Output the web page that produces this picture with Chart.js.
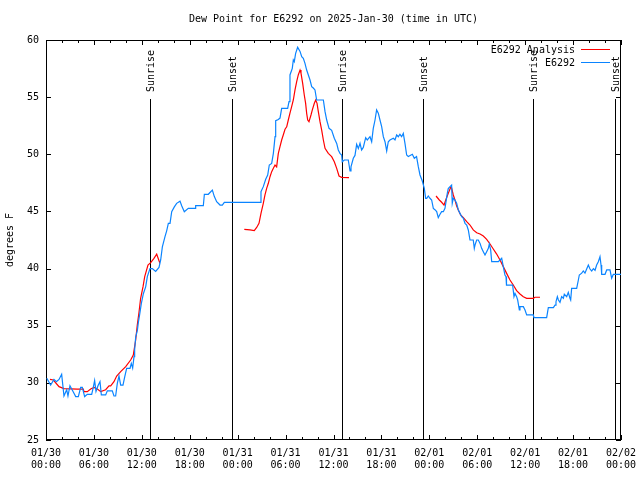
<!DOCTYPE html>
<html>
<head>
<meta charset="utf-8">
<script src="https://cdn.jsdelivr.net/npm/chart.js@4.4.1/dist/chart.umd.min.js"></script>
<style>
  body { margin: 0; background: #fff; }
  #chart { display: block; }
</style>
</head>
<body>
<canvas id="chart" width="640" height="480"></canvas>
<script>
// hours since 01/30 00:00 UTC
var obsHours = [0.1, 0.58, 1.0, 1.3, 1.63, 1.96, 2.25, 2.59, 2.75, 3.0, 3.42, 3.72, 4.05, 4.34, 4.55, 4.84, 5.17, 5.72, 5.92, 6.09,
  6.26, 6.51, 6.76, 6.93, 7.47, 7.68, 8.3, 8.51, 8.72, 8.93, 9.14, 9.35, 9.64, 9.85, 10.1, 10.52, 10.68, 10.85, 11.02, 11.1,
  11.23, 11.44, 11.56, 11.73, 11.94, 12.19, 12.48, 12.69, 13.02, 13.31, 13.73, 14.15, 14.36, 14.57, 14.9, 15.11, 15.32, 15.53, 15.74, 16.07,
  16.36, 16.78, 16.99, 17.32, 17.82, 18.66, 18.74, 19.7, 19.83, 20.32, 20.83, 21.08, 21.37, 21.79, 22.08, 22.33, 26.8, 26.92, 27.21, 27.51,
  27.76, 27.96, 28.26, 28.47, 28.68, 28.76, 29.09, 29.3, 29.51, 30.26, 30.43, 30.55, 30.84, 30.97, 31.09, 31.26, 31.51, 31.81, 32.02, 32.22,
  32.43, 32.64, 32.85, 33.06, 33.27, 33.47, 33.68, 33.89, 34.73, 34.94, 35.15, 35.44, 35.77, 36.1, 36.4, 36.6, 36.81, 37.02, 37.1, 37.35,
  37.85, 38.07, 38.19, 38.48, 38.69, 38.9, 39.11, 39.32, 39.52, 39.73, 40.03, 40.23, 40.57, 40.78, 40.98, 41.2, 41.4, 41.61, 41.82, 42.03,
  42.24, 42.45, 42.66, 42.86, 43.07, 43.49, 43.7, 43.91, 44.12, 44.32, 44.53, 44.74, 44.95, 45.16, 45.37, 45.87, 46.12, 46.4, 46.62, 46.83,
  47.12, 47.37, 47.54, 47.67, 47.87, 48.08, 48.29, 48.5, 48.7, 48.92, 49.12, 49.34, 49.54, 49.75, 49.96, 50.25, 50.37, 50.59, 50.79, 50.87,
  51.0, 51.21, 51.42, 51.63, 51.84, 52.05, 52.26, 52.47, 52.68, 52.88, 53.09, 53.5, 53.63, 53.72, 53.93, 54.13, 54.35, 54.55, 54.76, 54.97,
  55.18, 55.39, 55.51, 55.68, 55.81, 56.64, 56.85, 57.06, 57.26, 57.47, 57.6, 57.66, 58.43, 58.6, 58.73, 58.93, 59.06, 59.27, 59.35, 59.77,
  59.98, 60.19, 61.02, 61.11, 62.69, 62.9, 63.53, 63.74, 63.86, 64.03, 64.16, 64.36, 64.57, 64.78, 64.9, 65.2, 65.4, 65.61, 65.7, 65.82,
  66.45, 66.66, 66.78, 67.08, 67.28, 67.49, 67.7, 67.91, 68.12, 68.33, 68.54, 68.75, 68.95, 69.16, 69.37, 69.5, 69.58, 70.0, 70.21, 70.62,
  70.83, 71.04, 72.0];
var obsDewpt = [30.4, 29.8, 30.3, 30.1, 30.3, 30.75, 28.85, 29.4, 28.85, 29.75, 29.2, 28.8, 28.8, 29.6, 29.6, 28.8, 29.0, 29.0, 29.6, 30.2,
  29.25, 29.75, 30.1, 28.95, 28.95, 29.3, 29.3, 28.85, 28.85, 29.96, 30.6, 29.8, 29.8, 30.5, 31.27, 31.27, 31.7, 31.3, 32.3, 32.9,
  34.0, 34.6, 35.27, 36.0, 36.96, 37.8, 38.4, 39.3, 40.0, 40.0, 39.75, 40.1, 40.75, 41.9, 42.8, 43.3, 43.96, 43.96, 44.98, 45.4,
  45.71, 45.9, 45.5, 44.98, 45.27, 45.27, 45.5, 45.5, 46.5, 46.5, 46.87, 46.3, 45.85, 45.56, 45.56, 45.8, 45.8, 46.73, 47.17, 47.81,
  48.19, 49.06, 49.2, 50.08, 51.54, 52.94, 53.05, 53.17, 54.02, 54.02, 54.6, 56.94, 57.52, 58.25, 58.1, 58.83, 59.36, 59.0, 58.54, 58.4,
  57.96, 57.37, 56.94, 56.5, 55.92, 55.8, 55.63, 54.75, 54.75, 53.73, 53.0, 52.27, 52.1, 51.4, 50.95, 50.38, 50.08, 49.94, 49.35, 49.5,
  49.5, 48.54, 48.9, 49.65, 49.9, 50.87, 50.5, 50.96, 50.37, 50.6, 51.46, 51.25, 51.54, 51.1, 52.27, 53.0, 53.88, 53.6, 53.0, 52.42,
  51.54, 51.1, 50.29, 51.1, 51.25, 51.4, 51.25, 51.69, 51.54, 51.75, 51.54, 51.83, 50.96, 49.94, 49.8, 50.0, 49.65, 49.8, 48.92, 48.19,
  47.66, 47.02, 46.15, 46.15, 46.35, 46.15, 46.0, 45.27, 45.15, 44.98, 44.46, 44.75, 44.98, 44.98, 45.27, 46.58, 47.0, 47.17, 47.3, 45.71,
  46.15, 46.0, 45.71, 45.13, 44.83, 44.54, 44.4, 43.96, 43.81, 43.38, 42.5, 42.5, 41.77, 42.06, 42.5, 42.5, 42.2, 41.77, 41.48, 41.19,
  41.48, 41.77, 42.15, 41.63, 40.6, 40.6, 40.75, 40.9, 40.17, 39.44, 39.3, 38.56, 38.56, 37.54, 37.83, 37.54, 37.25, 36.38, 36.67, 36.67,
  36.38, 35.94, 35.94, 35.71, 35.71, 36.58, 36.58, 36.8, 37.1, 37.54, 37.25, 37.05, 37.54, 37.4, 37.75, 37.54, 37.92, 37.4, 37.25, 38.27,
  38.27, 39.0, 39.44, 39.6, 39.79, 39.6, 39.96, 40.31, 39.96, 39.79, 40.0, 39.85, 40.31, 40.6, 41.04, 40.31, 39.5, 39.5, 39.88, 39.88,
  39.15, 39.5, 39.5];

// analysis, null = no analysis (line break)
var anaHours = [0.5, 0.92, 1.63, 2.25, 3.92, 4.67, 4.76, 5.17, 5.59, 6.01, 6.43, 6.85, 7.47, 7.89, 8.1, 8.51, 8.85, 9.35, 9.98, 10.6,
  10.93, 11.23, 11.43, 11.65, 11.85, 12.15, 12.36, 12.77, 13.11, 13.52, 13.86, 14.15, 14.2, 19.0,
  24.83, 25.54, 26.08, 26.38, 26.67, 26.92, 27.21, 27.42, 27.63, 27.84, 28.05, 28.26, 28.47, 28.68, 28.88, 29.09, 29.3, 29.51, 29.71, 29.93,
  30.14, 30.34, 30.55, 30.76, 30.97, 31.18, 31.39, 31.59, 31.81, 31.93, 32.14, 32.34, 32.51, 32.64, 32.77, 32.93, 33.18, 33.35, 33.6, 33.77,
  33.94, 34.1, 34.31, 34.52, 34.73, 34.94, 35.35, 35.77, 36.1, 36.4, 36.69, 37.02, 37.94, 43.0,
  48.84, 49.25, 49.54, 49.84, 50.09, 50.37, 50.67, 50.79, 51.0, 51.21, 51.42, 51.63, 51.92, 52.26, 52.68, 53.09, 53.5, 53.93, 54.35, 54.76,
  55.18, 55.6, 56.01, 56.43, 56.85, 57.26, 57.68, 58.1, 58.51, 58.93, 59.35, 59.77, 60.19, 61.02, 61.23, 61.86];
var anaDewpt = [30.3, 30.25, 29.67, 29.5, 29.46, 29.46, 29.23, 29.23, 29.46, 29.6, 29.46, 29.23, 29.4, 29.73, 29.73, 30.1, 30.6, 30.98, 31.42, 32.0,
  32.44, 33.75, 35.06, 36.2, 37.4, 38.42, 39.3, 40.3, 40.52, 40.9, 41.27, 40.69, 40.6, null,
  43.43, 43.38, 43.32, 43.6, 43.96, 44.83, 45.71, 46.44, 47.02, 47.46, 48.04, 48.48, 48.77, 49.06, 48.9, 50.08, 50.67, 51.25, 51.69, 52.19,
  52.4, 53.0, 53.6, 54.17, 54.75, 55.63, 56.35, 56.94, 57.37, 57.1, 56.2, 55.19, 54.46, 53.58, 53.0, 52.85, 53.44, 53.88, 54.46, 54.75,
  54.46, 53.73, 52.85, 52.12, 51.25, 50.52, 50.08, 49.79, 49.35, 48.77, 48.1, 47.98, 47.96, null,
  46.35, 46.0, 45.8, 45.56, 46.06, 46.58, 47.1, 47.05, 46.44, 46.0, 45.48, 45.13, 44.69, 44.46, 44.1, 43.81, 43.38, 43.14, 43.02, 42.85,
  42.56, 42.15, 41.71, 41.27, 40.75, 40.17, 39.58, 39.0, 38.56, 38.07, 37.78, 37.54, 37.4, 37.4, 37.49, 37.49];

var sunHours = [13.02, 23.33, 37.12, 47.25, 61.0, 71.25];
var sunLabels = ['Sunrise', 'Sunset', 'Sunrise', 'Sunset', 'Sunrise', 'Sunset'];

var tickDays = ['01/30', '01/30', '01/30', '01/30', '01/31', '01/31', '01/31', '01/31', '02/01', '02/01', '02/01', '02/01', '02/02'];
var tickTimes = ['00:00', '06:00', '12:00', '18:00', '00:00', '06:00', '12:00', '18:00', '00:00', '06:00', '12:00', '18:00', '00:00'];

var seriesNames = ['E6292 Analysis', 'E6292'];
var seriesColors = ['#ff0000', '#0a84ff'];

var FONT = 'DejaVu Sans Mono';

function toPoints(xs, ys) {
  return xs.map(function (x, i) { return { x: x, y: ys[i] }; });
}

// gnuplot-ish frame, inward ticks, sunrise/sunset markers and legend
var gnuplotBits = {
  id: 'gnuplotBits',
  beforeDatasetsDraw: function (chart) {
    var ctx = chart.ctx, a = chart.chartArea;
    var xs = chart.scales.x, ys = chart.scales.y;
    ctx.save();
    ctx.strokeStyle = '#000';
    ctx.lineWidth = 1;
    ctx.strokeRect(Math.round(a.left) + 0.5, Math.round(a.top) + 0.5,
      Math.round(a.right - a.left) - 1, Math.round(a.bottom - a.top) - 1);
    ctx.beginPath();
    xs.ticks.forEach(function (t) {
      var px = Math.round(xs.getPixelForValue(t.value)) + 0.5;
      var len = (t.value % 6 === 0) ? 5 : 3;
      ctx.moveTo(px, a.bottom); ctx.lineTo(px, a.bottom - len);
      ctx.moveTo(px, a.top); ctx.lineTo(px, a.top + len);
    });
    ys.ticks.forEach(function (t) {
      var py = Math.round(ys.getPixelForValue(t.value)) + 0.5;
      ctx.moveTo(a.left, py); ctx.lineTo(a.left + 5, py);
      ctx.moveTo(a.right, py); ctx.lineTo(a.right - 5, py);
    });
    ctx.stroke();

    ctx.font = '10px "' + FONT + '"';
    ctx.fillStyle = '#000';
    sunHours.forEach(function (h, i) {
      var px = Math.round(xs.getPixelForValue(h)) + 0.5;
      ctx.beginPath();
      ctx.moveTo(px, a.top + 59);
      ctx.lineTo(px, a.bottom);
      ctx.stroke();
      ctx.save();
      ctx.translate(px + 1, a.top + 52);
      ctx.rotate(-Math.PI / 2);
      ctx.textAlign = 'left';
      ctx.textBaseline = 'middle';
      ctx.fillText(sunLabels[i], 0, 0);
      ctx.restore();
    });
    ctx.restore();
  },
  afterDraw: function (chart) {
    var ctx = chart.ctx, a = chart.chartArea;
    ctx.save();
    ctx.font = '10px "' + FONT + '"';
    ctx.fillStyle = '#000';
    ctx.textAlign = 'right';
    ctx.textBaseline = 'middle';
    seriesNames.forEach(function (name, i) {
      var y = a.top + 10 + i * 13;
      ctx.fillText(name, a.right - 46, y);
      ctx.beginPath();
      ctx.strokeStyle = seriesColors[i];
      ctx.lineWidth = 1;
      ctx.moveTo(a.right - 40, Math.round(y) - 0.5);
      ctx.lineTo(a.right - 11, Math.round(y) - 0.5);
      ctx.stroke();
    });
    ctx.restore();
  }
};

Chart.defaults.font.family = FONT;
Chart.defaults.font.size = 10;
Chart.defaults.color = '#000';

new Chart(document.getElementById('chart'), {
  type: 'line',
  data: {
    datasets: [
      {
        label: seriesNames[1],
        data: toPoints(obsHours, obsDewpt),
        borderColor: seriesColors[1],
        borderWidth: 1.2,
        pointRadius: 0,
        tension: 0,
        order: 0
      },
      {
        label: seriesNames[0],
        data: toPoints(anaHours, anaDewpt),
        borderColor: seriesColors[0],
        borderWidth: 1.2,
        pointRadius: 0,
        tension: 0,
        spanGaps: false,
        order: 1
      }
    ]
  },
  options: {
    responsive: false,
    animation: false,
    events: [],
    layout: { padding: { left: 0, right: 19, top: 0, bottom: 0 } },
    plugins: {
      legend: { display: false },
      tooltip: { enabled: false },
      title: {
        display: true,
        fullSize: false,
        text: 'Dew Point for E6292 on 2025-Jan-30 (time in UTC)',
        font: { size: 10, weight: 'normal' },
        padding: { top: 13, bottom: 15 }
      }
    },
    scales: {
      x: {
        type: 'linear',
        min: 0,
        max: 72,
        grid: { display: false, drawTicks: false },
        border: { display: false },
        afterBuildTicks: function (scale) {
          var t = [];
          for (var h = 0; h <= 72; h += 2) t.push({ value: h });
          scale.ticks = t;
        },
        afterFit: function (scale) {
          scale.height = 40;
          scale.paddingLeft = 0;
          scale.paddingRight = 0;
        },
        ticks: {
          autoSkip: false,
          maxRotation: 0,
          padding: 7,
          font: { size: 10, lineHeight: 1.25 },
          callback: function (v) {
            if (v % 6 !== 0) return '';
            var i = v / 6;
            return [tickDays[i], tickTimes[i]];
          }
        }
      },
      y: {
        min: 25,
        max: 60,
        grid: { display: false, drawTicks: false },
        border: { display: false },
        afterFit: function (scale) {
          scale.width = 46;
          scale.paddingTop = 0;
          scale.paddingBottom = 0;
        },
        ticks: { stepSize: 5, padding: 7 },
        title: {
          display: true,
          text: 'degrees F',
          padding: { top: 4, bottom: 0 },
          font: { size: 10 }
        }
      }
    }
  },
  plugins: [gnuplotBits]
});
</script>
</body>
</html>
